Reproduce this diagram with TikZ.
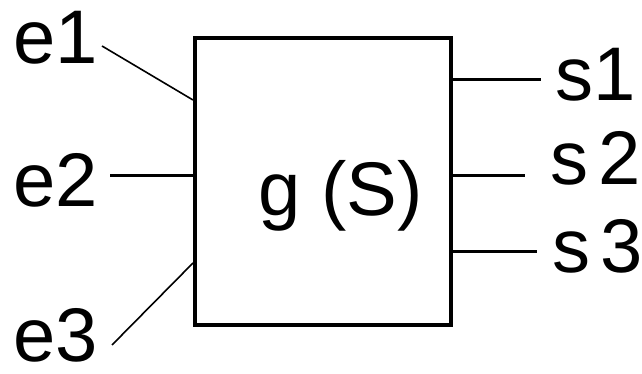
\documentclass[tikz,border=0pt]{standalone}
\usepackage{fontspec}
\setmainfont{Liberation Sans}
\usetikzlibrary{positioning}

\begin{document}
\begin{tikzpicture}[x=1pt, y=1pt,
    lbl/.style={inner sep=0pt, anchor=base west, font=\fontsize{76}{90}\selectfont},
    outlbl/.style={lbl, execute at begin node={\spaceskip=0.14em\relax}},
    wire/.style={line width=3pt},
    slant/.style={line width=1.6pt}]
    \useasboundingbox (0,0) rectangle (642,374);

    % block
    \node[draw=black, line width=4pt, minimum width=256pt, minimum height=287pt, inner sep=0pt] (box) at (323,192.5) {};
    \node[lbl] (fn) at (258,158) {g (S)};

    % inputs
    \node[lbl] (e1) at (13,310) {e1};
    \node[lbl] (e2) at (13,167) {e2};
    \node[lbl] (e3) at (13,12) {e3};
    \coordinate (e1end) at (102,328);
    \coordinate (e2end) at (110,198);
    \coordinate (e3end) at (112,29);
    \draw[slant] (e1end) -- ([yshift=81.5pt]box.west);
    \draw[wire] (e2end) -- ([yshift=5.5pt]box.west);
    \draw[slant] (e3end) -- ([yshift=-81.5pt]box.west);

    % outputs
    \node[outlbl] (s1) at (555,273) {s1};
    \node[outlbl] (s2) at (550,189) {s 2};
    \node[outlbl] (s3) at (552,101) {s 3};
    \coordinate (s1end) at (541,294);
    \coordinate (s2end) at (525,198);
    \coordinate (s3end) at (537,122);
    \draw[wire] ([yshift=101.5pt]box.east) -- (s1end);
    \draw[wire] ([yshift=5.5pt]box.east) -- (s2end);
    \draw[wire] ([yshift=-70.5pt]box.east) -- (s3end);
\end{tikzpicture}
\end{document}
